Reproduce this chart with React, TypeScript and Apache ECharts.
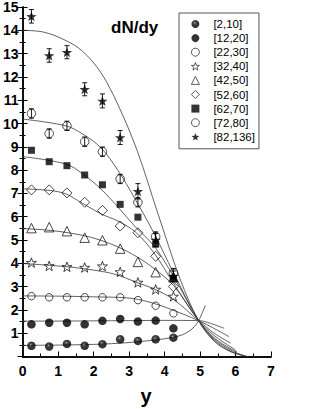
import React, { useEffect, useRef } from "react";
import * as echarts from "echarts";

const FONT = '"Liberation Sans", Arial, Helvetica, sans-serif';

// rapidity bins (x positions of measured points)
const yPos = [0.25, 0.75, 1.25, 1.75, 2.25, 2.75, 3.25, 3.75, 4.25];

// dN/dy for each multiplicity class
const names = ["[2,10]", "[12,20]", "[22,30]", "[32,40]", "[42,50]", "[52,60]", "[62,70]", "[72,80]", "[82,136]"];
const s2_10 = [0.46, 0.43, 0.54, 0.46, 0.53, 0.74, 0.67, 0.74, 0.81];
const s12_20 = [1.38, 1.45, 1.45, 1.38, 1.53, 1.61, 1.5, 1.54, 1.21];
const s22_30 = [2.59, 2.54, 2.54, 2.54, 2.54, 2.54, 2.42, 2.18, 1.85];
const s32_40 = [4.03, 3.89, 3.85, 3.82, 3.88, 3.63, 3.18, 2.88, 2.58];
const s42_50 = [5.51, 5.55, 5.38, 5.1, 4.99, 4.63, 4.06, 3.62, 3.4];
const s52_60 = [7.15, 7.15, 7.02, 6.62, 6.27, 5.6, 5.31, 4.3, 3.0];
const s62_70 = [8.85, 8.36, 8.19, 7.79, 7.37, 6.53, 5.98, 4.82, 3.35];
const s72_80 = [10.43, 9.57, 9.9, 9.22, 8.79, 7.62, 6.62, 5.15, 3.58];
const s82_136 = [14.6, 12.92, 13.06, 11.47, 10.97, 9.4, 7.09, 5.0, 3.45];

// error bars
const err72_80 = [0.2, 0.2, 0.2, 0.2, 0.2, 0.2, 0.2, 0.2, 0.2];
const err82_136 = [0.29, 0.29, 0.28, 0.28, 0.3, 0.3, 0.33, 0.28, 0.22];

// fitted curves: [y, dN/dy]
const fit2_10 = [[0, 0.48], [1, 0.49], [2, 0.52], [2.5, 0.55], [3, 0.6], [3.5, 0.67], [4, 0.76], [4.5, 0.93], [4.8, 1.22], [4.96, 1.54], [5.15, 2.2]];
const fit12_20 = [[0, 1.52], [1, 1.52], [2, 1.53], [3, 1.54], [4, 1.55], [4.96, 1.54], [5.3, 1.42], [5.68, 1.21]];
const fit22_30 = [[0, 2.6], [1, 2.59], [2, 2.56], [3.05, 2.5], [3.7, 2.28], [4.17, 2.03], [4.96, 1.54], [5.4, 1.2], [5.82, 0.85]];
const fit32_40 = [[0, 3.99], [1.27, 3.85], [2.2, 3.66], [2.69, 3.49], [3.18, 3.2], [3.7, 2.9], [4.25, 2.45], [4.96, 1.54], [5.4, 1.0], [5.87, 0.57]];
const fit42_50 = [[0, 5.49], [0.8, 5.41], [1.69, 5.2], [2.2, 4.99], [2.69, 4.7], [3.23, 4.27], [3.7, 3.78], [4.25, 3.05], [4.96, 1.54], [5.4, 0.9], [6.0, 0.28]];
const fit52_60 = [[0, 7.2], [0.8, 7.12], [1.22, 6.98], [1.55, 6.7], [2.2, 6.13], [2.69, 5.81], [3.18, 5.34], [3.7, 4.45], [4.25, 3.15], [4.96, 1.54], [5.4, 0.8], [5.9, 0.3], [6.04, 0.2]];
const fit62_70 = [[0, 8.58], [1.22, 8.26], [1.69, 7.84], [2.2, 7.2], [2.69, 6.41], [3.18, 5.56], [3.7, 4.75], [4.25, 3.45], [4.96, 1.54], [5.4, 0.75], [5.9, 0.25], [6.2, 0.06]];
const fit72_80 = [[0, 10.19], [1.22, 9.9], [1.69, 9.55], [2.2, 8.97], [2.69, 7.98], [3.14, 6.84], [3.7, 5.3], [4.25, 3.6], [4.96, 1.54], [5.4, 0.7], [5.9, 0.2], [6.3, 0.02]];
const fit82_136 = [[0, 14.0], [0.6, 13.92], [1.22, 13.56], [1.69, 13.1], [2.2, 12.2], [2.69, 10.8], [3.23, 8.83], [3.8, 6.2], [4.45, 3.28], [4.96, 1.54], [5.4, 0.65], [5.9, 0.18], [6.35, 0]];

const xTicks = [0, 1, 2, 3, 4, 5, 6, 7];

const STAR = "path://M0,-50 L11.8,-16.2 L47.6,-15.5 L19,6.2 L29.4,40.5 L0,20 L-29.4,40.5 L-19,6.2 L-47.6,-15.5 L-11.8,-16.2 Z";
const OPEN = "rgba(255,255,255,0)";

function pts(vals: number[]) {
  return yPos.map((x, i) => [x, vals[i]]);
}
function errPts(vals: number[], errs: number[]) {
  return yPos.map((x, i) => [x, vals[i] - errs[i], vals[i] + errs[i]]);
}

export default function App() {
  const ref = useRef<HTMLDivElement>(null);
  useEffect(() => {
    document.body.style.margin = "0";
    const chart = echarts.init(ref.current!, null, { renderer: "svg" });

    const sphere = {
      type: "radial",
      x: 0.42,
      y: 0.36,
      r: 0.62,
      colorStops: [
        { offset: 0, color: "#c8c8c8" },
        { offset: 0.15, color: "#3a3a3a" },
        { offset: 0.42, color: "#080808" },
        { offset: 1, color: "#000" },
      ],
    };

    const openStyle = { color: OPEN, borderColor: "#000", borderWidth: 0.9 };
    const scatterDefs: any[] = [
      { name: names[0], data: s2_10, symbol: "circle", size: 8.5, itemStyle: { color: sphere } },
      { name: names[1], data: s12_20, symbol: "circle", size: 8.5, itemStyle: { color: "#000" } },
      { name: names[2], data: s22_30, symbol: "circle", size: 7.5, itemStyle: openStyle },
      { name: names[3], data: s32_40, symbol: STAR, size: 10, itemStyle: openStyle },
      { name: names[4], data: s42_50, symbol: "triangle", size: 9.5, itemStyle: openStyle },
      { name: names[5], data: s52_60, symbol: "diamond", size: 10, itemStyle: openStyle },
      { name: names[6], data: s62_70, symbol: "rect", size: 7, itemStyle: { color: "#000" } },
      { name: names[7], data: s72_80, symbol: "circle", size: 8.5, itemStyle: openStyle },
      { name: names[8], data: s82_136, symbol: STAR, size: 10.5, itemStyle: { color: "#000" } },
    ];

    const fits = [fit2_10, fit12_20, fit22_30, fit32_40, fit42_50, fit52_60, fit62_70, fit72_80, fit82_136];

    const lineSeries = fits.map((f, i) => ({
      type: "line",
      name: "fit " + names[i],
      data: f,
      smooth: 0.35,
      symbol: "none",
      lineStyle: { color: "#3a3a3a", width: 0.8 },
      z: 1,
      silent: true,
    }));

    const errSeries = [
      { vals: s72_80, errs: err72_80 },
      { vals: s82_136, errs: err82_136 },
    ].map((e, i) => ({
      type: "custom",
      name: "err" + i,
      data: errPts(e.vals, e.errs),
      encode: { x: 0, y: [1, 2] },
      z: 2,
      silent: true,
      renderItem: (params: any, api: any) => {
        const x = api.value(0);
        const lo = api.coord([x, api.value(1)]);
        const hi = api.coord([x, api.value(2)]);
        const w = 2.5;
        const st = { stroke: "#000", lineWidth: 0.9 };
        return {
          type: "group",
          children: [
            { type: "line", shape: { x1: lo[0], y1: lo[1], x2: hi[0], y2: hi[1] }, style: st },
            { type: "line", shape: { x1: lo[0] - w, y1: lo[1], x2: lo[0] + w, y2: lo[1] }, style: st },
            { type: "line", shape: { x1: hi[0] - w, y1: hi[1], x2: hi[0] + w, y2: hi[1] }, style: st },
          ],
        };
      },
    }));

    const scatterSeries = scatterDefs.map((d) => ({
      type: "scatter",
      name: d.name,
      data: pts(d.data),
      symbol: d.symbol,
      symbolSize: d.size,
      symbolKeepAspect: true,
      itemStyle: d.itemStyle,
      z: 3,
    }));

    const legendData = scatterDefs.map((d) => ({
      name: d.name,
      icon: d.symbol,
      itemStyle: { ...d.itemStyle, borderWidth: d.itemStyle.borderWidth ? 0.8 : 0 },
    }));

    const axisLine = { show: true, lineStyle: { color: "#000", width: 1.5 } };
    const labelStyle = { fontFamily: FONT, fontSize: 14, fontWeight: "bold" as const, color: "#000" };

    chart.setOption({
      animation: false,
      grid: { left: 21, right: 45, top: 5.5, bottom: 52.5, containLabel: false },
      xAxis: [
        {
          type: "value",
          min: 0,
          max: 7,
          interval: 1,
          axisLine,
          axisTick: { show: true, inside: true, length: 5, lineStyle: { color: "#000", width: 1 } },
          minorTick: { show: true, splitNumber: 2, length: 3, lineStyle: { color: "#000", width: 1 } },
          splitLine: { show: false },
          axisLabel: { ...labelStyle, margin: 7, formatter: (v: number) => (xTicks.includes(v) ? String(v) : "") },
        },
        {
          type: "value",
          position: "top",
          min: 0,
          max: 7,
          interval: 1,
          axisLine,
          axisTick: { show: false },
          axisLabel: { show: false },
          splitLine: { show: false },
        },
      ],
      yAxis: [
        {
          type: "value",
          min: 0,
          max: 15,
          interval: 1,
          axisLine,
          axisTick: { show: true, inside: true, length: 5, lineStyle: { color: "#000", width: 1 } },
          minorTick: { show: true, splitNumber: 2, length: 3, lineStyle: { color: "#000", width: 1 } },
          splitLine: { show: false },
          axisLabel: { ...labelStyle, margin: 4, formatter: (v: number) => (v === 0 ? "" : String(v)) },
        },
        {
          type: "value",
          position: "right",
          min: 0,
          max: 15,
          interval: 1,
          axisLine,
          axisTick: { show: true, inside: true, length: 5, lineStyle: { color: "#000", width: 1 } },
          minorTick: { show: true, splitNumber: 2, length: 3, lineStyle: { color: "#000", width: 1 } },
          splitLine: { show: false },
          axisLabel: { show: false },
        },
      ],
      legend: {
        data: legendData,
        orient: "vertical",
        left: 179,
        top: 13,
        padding: [4, 4, 5, 12],
        itemGap: 0.1,
        itemWidth: 8,
        itemHeight: 8,
        symbolKeepAspect: true,
        borderColor: "#555",
        borderWidth: 1,
        backgroundColor: "#fff",
        selectedMode: false,
        textStyle: { fontFamily: FONT, fontSize: 11.5, color: "#000", lineHeight: 14, padding: [0, 0, 0, 9] },
      },
      graphic: [
        {
          type: "text",
          x: 111,
          y: 27,
          style: { text: "dN/dy", font: `bold 17px ${FONT}`, fill: "#000", align: "left", verticalAlign: "middle" },
        },
        {
          type: "text",
          x: 146,
          y: 396,
          style: { text: "y", font: `bold 20px ${FONT}`, fill: "#000", align: "center", verticalAlign: "middle" },
        },
      ],
      series: [...lineSeries, ...errSeries, ...scatterSeries],
    });
    return () => chart.dispose();
  }, []);
  return <div ref={ref} style={{ width: 316, height: 409 }} />;
}
